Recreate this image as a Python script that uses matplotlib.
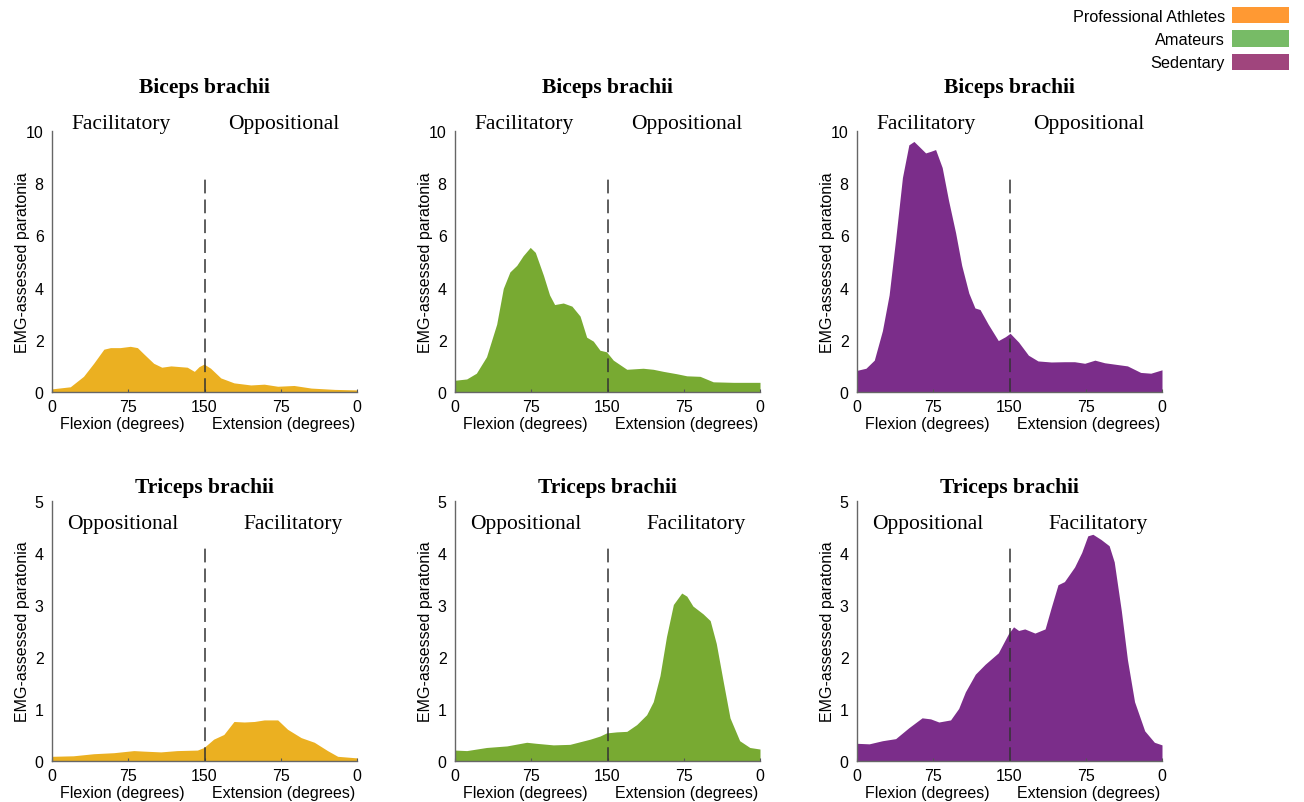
import numpy as np
import matplotlib.pyplot as plt
from matplotlib.patches import Patch

# Angle position along the movement: 0-150 flexion, 150-300 extension (back to 0)
tick_pos = [0, 75, 150, 225, 300]
tick_labels = ['0', '75', '150', '75', '0']

groups = ['Professional Athletes', 'Amateurs', 'Sedentary']
legend_colors = ['#FF9933', '#77BB66', '#A0457D']
fill_colors = ['#EBB021', '#78AA32', '#7B2D8A']

# Biceps brachii
bic_pro_x = [0, 18, 31, 41, 51, 57.5, 67, 77, 84, 90, 100, 108, 117, 126.5, 133, 140,
             144.6, 149.5, 156, 166, 179, 195.5, 208.7, 222, 238, 255, 278, 300]
bic_pro_y = [0.12, 0.2, 0.6, 1.1, 1.64, 1.7, 1.7, 1.75, 1.7, 1.47, 1.1, 0.95, 1.0, 0.97,
             0.95, 0.79, 0.97, 1.07, 0.91, 0.54, 0.35, 0.27, 0.3, 0.22, 0.25, 0.15, 0.1, 0.08]

bic_ama_x = [0, 11.5, 21, 31, 41, 47.5, 54, 60.7, 67, 74, 79, 87, 93, 98, 106.5, 115, 123,
             129.5, 136, 142.6, 149, 155.7, 169, 185, 195, 205, 218, 228, 241, 254, 274, 300]
bic_ama_y = [0.45, 0.5, 0.72, 1.35, 2.6, 3.97, 4.6, 4.85, 5.22, 5.54, 5.35, 4.47, 3.72, 3.35,
             3.41, 3.29, 2.91, 2.1, 1.95, 1.6, 1.54, 1.22, 0.87, 0.91, 0.87, 0.79, 0.7, 0.62,
             0.6, 0.39, 0.37, 0.37]

bic_sed_x = [0, 8.8, 17, 25, 31.6, 38, 44.7, 51, 56, 61, 67.5, 72.4, 77.3, 83.8, 90, 97, 103,
             110, 116, 121, 129, 139, 146, 150.6, 159, 168.6, 178, 191, 204, 214, 224, 234,
             243.6, 256.6, 266, 279, 289, 300]
bic_sed_y = [0.83, 0.91, 1.22, 2.35, 3.72, 5.85, 8.22, 9.47, 9.6, 9.41, 9.16, 9.22, 9.29, 8.6,
             7.35, 6.1, 4.85, 3.79, 3.22, 3.16, 2.6, 1.97, 2.12, 2.25, 1.91, 1.41, 1.19, 1.15,
             1.16, 1.16, 1.1, 1.22, 1.12, 1.05, 1.0, 0.75, 0.72, 0.85]

# Triceps brachii
tri_pro_x = [0, 21, 41, 61, 80.5, 90, 107, 123, 143, 149.5, 159, 169, 179, 189, 199, 208.7,
             222, 231.7, 245, 258, 271, 281, 300]
tri_pro_y = [0.09, 0.1, 0.14, 0.16, 0.2, 0.19, 0.175, 0.2, 0.21, 0.26, 0.42, 0.51, 0.76, 0.75,
             0.76, 0.79, 0.79, 0.61, 0.45, 0.36, 0.2, 0.09, 0.06]

tri_ama_x = [0, 11.5, 31, 51, 70.5, 80, 96.7, 113, 133, 142.6, 149, 159, 169, 178.7, 188.5,
             195, 201.6, 208, 214.8, 223, 228, 234, 244, 251, 257, 264, 270.5, 280, 290, 300]
tri_ama_y = [0.21, 0.2, 0.26, 0.29, 0.36, 0.34, 0.31, 0.32, 0.42, 0.48, 0.54, 0.56, 0.57, 0.7,
             0.89, 1.14, 1.64, 2.39, 3.01, 3.23, 3.17, 2.98, 2.83, 2.7, 2.26, 1.51, 0.83, 0.39,
             0.26, 0.23]

tri_sed_x = [0, 12, 25, 38, 51, 64, 72.4, 80.5, 92, 100, 106.6, 116.4, 126, 139, 149, 154, 159,
             165, 175, 185, 191, 197.7, 204, 214, 221, 227, 232, 240, 248, 253, 260, 266, 273,
             283, 292.5, 300]
tri_sed_y = [0.34, 0.33, 0.39, 0.43, 0.64, 0.83, 0.81, 0.75, 0.79, 1.01, 1.33, 1.67, 1.86, 2.08,
             2.45, 2.58, 2.51, 2.54, 2.46, 2.54, 2.95, 3.39, 3.45, 3.73, 4.01, 4.33, 4.36, 4.26,
             4.14, 3.83, 2.89, 1.95, 1.14, 0.58, 0.36, 0.31]

rows = [
    dict(title='Biceps brachii', ymax=10, yticks=[0, 2, 4, 6, 8, 10], dash_top=8.35,
         regions=[('Facilitatory', 68), ('Oppositional', 228)], region_y=1.03, title_y=1.17,
         data=[(bic_pro_x, bic_pro_y), (bic_ama_x, bic_ama_y), (bic_sed_x, bic_sed_y)]),
    dict(title='Triceps brachii', ymax=5, yticks=[0, 1, 2, 3, 4, 5], dash_top=4.2,
         regions=[('Oppositional', 70), ('Facilitatory', 237)], region_y=0.915, title_y=1.053,
         data=[(tri_pro_x, tri_pro_y), (tri_ama_x, tri_ama_y), (tri_sed_x, tri_sed_y)]),
]

fig = plt.figure(figsize=(13.04, 8.03), dpi=100)
W, H = 1304, 803
lefts = [52, 455, 857]
row_px = [(132, 393), (502, 762)]

serif = 'Liberation Serif'
sans = 'Liberation Sans'

for r, row in enumerate(rows):
    top, bottom = row_px[r]
    for c in range(3):
        ax = fig.add_axes([lefts[c] / W, 1 - bottom / H, 305 / W, (bottom - top) / H])
        xs, ys = row['data'][c]
        ax.fill_between(xs, 0, ys, color=fill_colors[c], linewidth=0)
        ax.plot([150, 150], [0, row['dash_top']], color='#333333', lw=1.1,
                linestyle=(0, (9, 4)))
        ax.set_xlim(0, 300)
        ax.set_ylim(0, row['ymax'])
        ax.set_xticks(tick_pos)
        ax.set_xticklabels(tick_labels, fontsize=11.5, fontname=sans)
        ax.set_yticks(row['yticks'])
        ax.set_yticklabels([str(v) for v in row['yticks']], fontsize=11.5, fontname=sans)
        ax.tick_params(axis='x', direction='in', length=2, pad=5, color='#555555')
        ax.tick_params(axis='y', length=0, pad=6)
        for s in ['top', 'right']:
            ax.spines[s].set_visible(False)
        for s in ['left', 'bottom']:
            ax.spines[s].set_color('#666666')
            ax.spines[s].set_linewidth(1.0)
        ax.set_ylabel('EMG-assessed paratonia', fontsize=11.5, fontname=sans)
        ax.yaxis.set_label_coords(-22 / 305, 0.5)
        tr = ax.get_xaxis_transform()
        ax.text(69, -0.12, 'Flexion (degrees)', transform=tr, ha='center', va='center',
                fontsize=11.5, fontname=sans)
        ax.text(228, -0.12, 'Extension (degrees)', transform=tr, ha='center', va='center',
                fontsize=11.5, fontname=sans)
        for label, xpos in row['regions']:
            ax.text(xpos, row['region_y'], label, transform=tr, ha='center', va='center',
                    fontsize=15.5, fontname=serif)
        ax.text(0.5, row['title_y'], row['title'], transform=ax.transAxes, ha='center',
                va='center', fontsize=15.5, fontname=serif, fontweight='bold')
        ax.patch.set_visible(False)

handles = [Patch(facecolor=col, edgecolor='none') for col in legend_colors]
fig.legend(handles, groups, loc='upper right', bbox_to_anchor=(1289 / W, 1 - 8 / H),
           frameon=False, markerfirst=False, borderpad=0, borderaxespad=0,
           handlelength=3.5, handleheight=1.15, labelspacing=0.42, handletextpad=0.45,
           prop={'family': sans, 'size': 11.7})

fig.savefig('out.png', dpi=100)
